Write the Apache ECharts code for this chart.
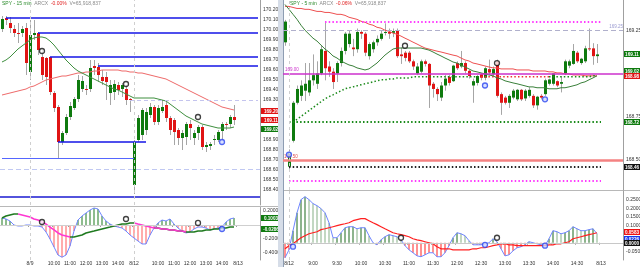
<!DOCTYPE html>
<html><head><meta charset="utf-8">
<script src="https://cdn.jsdelivr.net/npm/echarts/dist/echarts.min.js"></script>
<style>html,body{margin:0;padding:0;background:#fff}#c{width:640px;height:267px}</style>
</head><body><div id="c"></div>
<script>
// ================= DATA =================
// Left panel: SPY 15 min (8/8 tail, 8/9, 8/12)
const leftOpen = [170.01,170.12,170.07,170.01,169.97,169.97,170.02,169.58,169.95,169.97,
169.73,169.72,169.73,169.37,169.23,168.88,168.97,169.13,169.22,169.31,
169.41,169.41,169.41,169.64,169.63,169.53,169.53,169.37,169.38,169.45,
169.41,169.41,169.31,168.45,168.90,168.95,169.00,169.15,169.23,169.08,
169.19,169.25,169.12,169.10,169.00,168.92,168.93,169.06,168.92,168.97,
169.03,168.83,168.84,168.90,168.90,168.99,169.06,169.06,169.13];
const leftClose = [170.11,170.10,170.02,169.97,169.965,170.01,169.67,169.95,169.97,169.80,
169.55,169.53,169.38,169.22,168.88,168.97,169.13,169.24,169.31,169.50,
169.49,169.40,169.62,169.62,169.55,169.49,169.48,169.45,169.46,169.40,
169.45,169.30,169.30,168.88,169.12,169.20,169.18,169.23,169.08,169.22,
169.23,169.12,169.00,168.98,168.92,168.97,169.06,169.02,168.97,169.03,
168.83,168.85,168.86,168.91,168.98,169.06,169.05,169.13,169.10];
const leftHigh = [170.14,170.14,170.13,170.05,170.07,170.04,170.07,170.10,170.10,169.98,
169.80,169.73,169.73,169.39,169.25,168.99,169.16,169.28,169.33,169.55,
169.54,169.45,169.70,169.70,169.67,169.60,169.58,169.50,169.50,169.48,
169.47,169.45,169.32,168.90,169.15,169.22,169.22,169.27,169.25,169.25,
169.30,169.28,169.14,169.12,169.02,169.00,169.08,169.10,169.00,169.05,
169.05,168.88,168.88,168.95,169.00,169.08,169.08,169.15,169.25];
const leftLow = [169.98,170.05,169.97,169.93,169.87,169.93,169.55,169.50,169.90,169.75,
169.50,169.45,169.35,169.18,168.72,168.85,168.95,169.10,169.20,169.28,
169.38,169.35,169.38,169.55,169.48,169.45,169.30,169.25,169.30,169.35,
169.33,169.25,169.18,168.36,168.88,168.90,168.95,169.12,169.05,169.05,
169.17,169.08,168.95,168.85,168.85,168.80,168.85,168.90,168.85,168.90,
168.80,168.78,168.80,168.85,168.88,168.90,169.00,169.02,169.05];
const leftFastMA = [169.68,169.70,169.73,169.77,169.81,169.84,169.87,169.90,169.92,169.93,
169.93,169.92,169.89,169.85,169.80,169.75,169.70,169.66,169.62,169.59,
169.57,169.55,169.53,169.51,169.49,169.47,169.45,169.43,169.41,169.40,
169.38,169.36,169.34,169.32,169.32,169.32,169.32,169.32,169.32,169.31,
169.30,169.29,169.26,169.23,169.20,169.17,169.14,169.12,169.10,169.08,
169.06,169.05,169.04,169.03,169.02,169.02,169.02,169.02,169.03];
const leftSlowMA = [169.35,169.36,169.37,169.38,169.39,169.40,169.41,169.43,169.44,169.46,
169.48,169.50,169.51,169.52,169.53,169.54,169.54,169.55,169.56,169.57,
169.57,169.58,169.58,169.59,169.59,169.60,169.60,169.60,169.60,169.60,
169.59,169.59,169.58,169.58,169.57,169.57,169.56,169.55,169.54,169.53,
169.52,169.51,169.49,169.47,169.45,169.43,169.41,169.39,169.37,169.35,
169.33,169.31,169.29,169.27,169.25,169.23,169.22,169.21,169.20];
const leftMacd = [0.100,0.086,0.057,0,-0.014,-0.014,0,0,-0.014,-0.014,
-0.029,-0.100,-0.200,-0.314,-0.429,-0.46,-0.429,-0.300,-0.086,0.071,
0.129,0.171,0.214,0.243,0.229,0.129,0.057,0.014,-0.014,-0.029,
-0.043,-0.086,-0.143,-0.186,-0.229,-0.271,-0.271,-0.143,-0.043,0.029,
0.071,0.057,0.086,0.014,-0.043,-0.086,-0.114,-0.100,-0.057,-0.029,
-0.029,-0.043,-0.071,-0.057,-0.043,-0.029,0.043,0.086,0.100];
const leftSignal = [0.100,0.129,0.143,0.157,0.157,0.143,0.129,0.114,0.086,0.071,
0.043,0.014,-0.029,-0.071,-0.114,-0.143,-0.157,-0.171,-0.171,-0.157,
-0.143,-0.114,-0.100,-0.086,-0.071,-0.057,-0.043,-0.029,-0.014,0,
0.014,0.014,0.029,0.029,0.014,0,-0.014,-0.029,-0.043,-0.043,
-0.057,-0.057,-0.071,-0.071,-0.086,-0.086,-0.100,-0.100,-0.100,-0.086,
-0.086,-0.071,-0.071,-0.057,-0.057,-0.043,-0.043,-0.029,-0.029];
const leftTickCats = ['8/9 08:30','8/9 10:00','8/9 11:00','8/9 12:00','8/9 13:00','8/9 14:00',
  '8/12 08:30','8/12 10:00','8/12 11:00','8/12 12:00','8/12 13:00','8/12 14:00','8/13 08:30'];
const leftTickText = ['8/9','10:00','11:00','12:00','13:00','14:00','8/12','10:00','11:00','12:00','13:00','14:00','8/13'];
const leftPriceTicks = [170.2,170.1,170.0,169.9,169.8,169.7,169.6,169.5,169.4,169.3,168.9,168.8,168.7,168.6,168.5,168.4];
const leftMacdTicks = [0.2,-0.2,-0.4];
const leftLevels = [170.12,169.97,169.73,169.64];
const leftLevelStart = [1,9,12,24];
const leftShortLevel = [14,36,168.88];
const leftLowLevel = [0,33,168.72];
const leftDash = [168.61];
const leftDash2 = [32,64,169.30];
const leftBottomLevel = 168.33;
const leftMainMarks = [[10,169.79,'k'],[31,169.46,'k'],[49,169.13,'k'],[55,168.88,'b']];
const leftMacdMarks = [[10,0.043,'k'],[31,0.086,'k'],[49,0.029,'k'],[55,-0.057,'b']];
const leftBoxVals = [169.195,169.10,169.015];
const leftBoxText = ['169.20','169.11','169.02'];
const leftMacdBoxVals = [0.100,-0.05];
const leftMacdBoxText = ['0.1003','-0.0286'];

// Right panel: SPY 5 min (last bar 8/9 + 8/12)
const rightOpen = [169.18,168.46,168.61,168.83,168.87,168.90,168.89,168.96,168.94,169.00,
169.13,169.04,169.01,169.00,169.06,169.13,169.17,169.15,169.14,169.24,
169.23,169.10,169.14,169.18,169.20,169.235,169.24,169.235,169.25,169.11,
169.12,169.12,169.07,169.00,169.01,169.07,169.055,168.94,168.91,168.86,
168.93,168.98,168.955,169.06,169.04,169.06,169.015,168.93,168.945,168.995,
168.975,169.025,168.995,169.07,168.88,168.86,168.83,168.86,168.85,168.905,
168.855,168.87,168.87,168.815,168.87,168.88,168.94,168.94,168.955,168.94,
169.00,169.045,169.055,169.12,169.06,169.07,169.145,169.145,169.10];
const rightClose = [169.30,168.54,168.83,168.91,168.93,168.94,168.96,168.99,169.00,169.14,
169.03,169.01,168.95,169.06,169.13,169.23,169.23,169.14,169.24,169.23,
169.12,169.17,169.18,169.20,169.23,169.24,169.23,169.245,169.10,169.10,
169.09,169.07,169.04,169.04,169.07,169.055,168.93,168.91,168.88,168.93,
168.97,168.945,169.045,169.03,169.06,169.015,168.985,168.955,168.985,168.975,
169.03,169.005,169.025,168.87,168.83,168.83,168.87,168.90,168.905,168.85,
168.90,168.905,168.815,168.865,168.86,168.96,168.965,169.00,168.93,168.95,
169.07,169.07,169.13,169.07,169.085,169.145,169.14,169.10,169.11];
const rightHigh = [169.31,168.56,168.84,168.93,168.96,169.06,169.06,169.11,169.07,169.16,
169.30,169.07,169.03,169.07,169.15,169.24,169.25,169.20,169.26,169.25,
169.24,169.18,169.19,169.22,169.25,169.29,169.26,169.26,169.26,169.15,
169.13,169.13,169.08,169.06,169.08,169.08,169.06,168.95,168.92,168.95,
168.99,168.99,169.05,169.07,169.13,169.07,169.02,168.97,168.99,169.00,
169.04,169.08,169.04,169.08,168.89,168.87,168.88,168.91,168.91,168.91,
168.91,168.92,168.88,168.87,168.88,168.97,168.97,169.00,168.96,168.985,
169.08,169.08,169.17,169.13,169.09,169.16,169.26,169.175,169.17];
const rightLow = [169.16,168.43,168.60,168.82,168.84,168.84,168.87,168.93,168.91,168.99,
168.96,168.98,168.91,168.95,169.04,169.11,169.15,169.10,169.12,169.20,
169.10,169.08,169.12,169.16,169.19,169.22,169.20,169.21,169.09,169.055,
169.07,169.06,169.02,168.99,169.00,169.04,168.80,168.86,168.84,168.84,
168.90,168.93,168.95,169.02,169.03,169.00,168.97,168.83,168.93,168.96,
168.96,168.99,168.98,168.86,168.76,168.82,168.80,168.85,168.84,168.84,
168.84,168.86,168.80,168.79,168.85,168.87,168.93,168.93,168.92,168.89,
168.99,169.03,169.05,169.06,169.05,169.06,169.13,169.05,169.06];
const rightFastMA = [169.399,169.371,169.342,169.313,169.279,169.250,169.227,169.204,169.187,169.164,
169.141,169.124,169.101,169.089,169.072,169.060,169.049,169.043,169.032,169.026,
169.020,169.026,169.043,169.060,169.083,169.106,169.124,169.141,169.147,169.147,
169.147,169.147,169.147,169.147,169.147,169.141,169.135,169.124,169.112,169.101,
169.089,169.078,169.066,169.060,169.049,169.037,169.026,169.014,169.009,169.003,
168.997,168.991,168.986,168.974,168.968,168.957,168.951,168.945,168.940,168.934,
168.928,168.922,168.922,168.917,168.917,168.917,168.911,168.911,168.911,168.917,
168.917,168.922,168.928,168.934,168.945,168.951,168.963,168.974,168.986];
const rightSlowMA = [169.388,169.388,169.382,169.376,169.376,169.371,169.371,169.365,169.359,169.359,
169.353,169.353,169.348,169.342,169.342,169.336,169.325,169.319,169.313,169.302,
169.296,169.285,169.279,169.267,169.262,169.250,169.244,169.233,169.227,169.216,
169.204,169.193,169.181,169.170,169.158,169.147,169.141,169.135,169.129,169.124,
169.118,169.112,169.106,169.101,169.089,169.078,169.072,169.060,169.055,169.049,
169.043,169.037,169.032,169.032,169.026,169.026,169.026,169.026,169.020,169.020,
169.020,169.020,169.014,169.014,169.014,169.014,169.009,169.009,169.003,169.003,
168.997,168.997,168.991,168.991,168.991,168.986,168.986,168.986,168.986];
const rightTrail = [null,null,168.716,168.734,168.751,168.768,168.785,168.802,168.819,168.836,
168.853,168.865,168.876,168.888,168.899,168.911,168.917,168.922,168.928,168.934,
168.940,168.945,168.951,168.957,168.963,168.963,168.968,168.968,168.974,168.974,
168.974,168.974,168.980,168.980,168.980,168.980,168.980,168.980,168.980,168.980,
168.980,168.980,168.980,168.980,168.980,168.980,168.980,168.980,168.980,168.980,
168.980,168.980,168.980,168.980,168.980,168.980,168.980,168.980,168.980,168.980,
168.980,168.980,168.980,168.980,168.980,168.980,168.980,168.980,168.980,168.980,
168.980,168.980,168.980,168.980,168.980,168.980,168.980,168.986,168.986];
const rightTrailRedRange = [49,66];
const rightMacd = [-0.087,-0.041,0.070,0.174,0.250,0.267,0.250,0.227,0.215,0.198,
0.174,0.116,0.029,0.029,0.058,0.087,0.093,0.093,0.081,0.087,
0.087,0.041,0.000,-0.012,0.017,0.035,0.047,0.041,0.035,0.017,
-0.017,-0.041,-0.058,-0.076,-0.081,-0.070,-0.058,-0.058,-0.081,-0.081,
-0.058,-0.017,0.029,0.058,0.052,0.041,0.012,-0.012,-0.012,-0.012,
-0.006,0.000,0.023,0.006,-0.035,-0.076,-0.070,-0.047,-0.029,-0.023,
-0.012,0.006,0.000,-0.006,-0.012,-0.017,0.023,0.070,0.064,0.052,
0.058,0.070,0.093,0.081,0.070,0.070,0.076,0.081,0.052];
const rightSignal = [-0.035,-0.017,-0.006,0.012,0.029,0.041,0.052,0.058,0.064,0.076,
0.081,0.087,0.093,0.099,0.105,0.110,0.116,0.128,0.134,0.140,
0.140,0.128,0.116,0.105,0.093,0.081,0.070,0.058,0.052,0.047,
0.041,0.035,0.023,0.017,0.012,0.006,0.000,-0.006,-0.023,-0.035,
-0.035,-0.035,-0.041,-0.041,-0.041,-0.041,-0.041,-0.035,-0.035,-0.029,
-0.029,-0.023,-0.017,-0.012,-0.006,-0.006,-0.012,-0.012,-0.017,-0.017,
-0.017,-0.017,-0.017,-0.017,-0.017,-0.017,-0.012,-0.012,-0.006,-0.006,
0.000,0.006,0.023,0.029,0.035,0.041,0.047,0.052,0.058];
const rightTickCats = ['8/12 08:30','8/12 09:00','8/12 09:30','8/12 10:00','8/12 10:30','8/12 11:00','8/12 11:30',
  '8/12 12:00','8/12 12:30','8/12 13:00','8/12 13:30','8/12 14:00','8/12 14:30','8/13 08:30'];
const rightTickText = ['8/12','9:00','9:30','10:00','10:30','11:00','11:30','12:00','12:30','13:00','13:30','14:00','14:30','8/13'];
const rightPriceTicks = [169.25,168.75,168.50];
const rightMacdTicks = [0.25,0.20,0.15,0.10,-0.05];
const rightTopDots = [10,79,169.30];
const rightDash = 169.25;
const rightPivot = 169.00;
const rightGreenDots = [1,79,168.72];
const rightRedLevel = 168.50;
const rightBlackDots = [1,79,168.457];
const rightMagDots = [1,79,168.378];
const rightMainMarks = [[1,168.53,'b'],[30,169.16,'k'],[50,168.93,'b'],[53,169.06,'k'],[65,168.85,'b']];
const rightMacdMarks = [[2,-0.023,'b'],[29,0.029,'k'],[50,-0.012,'b'],[53,0.029,'k'],[65,-0.017,'b']];
const rightBoxVals = [169.112,169.012,168.985,168.72,168.457];
const rightBoxText = ['169.11','169.02','168.98','168.72','168.46'];
const rightMacdBoxVals = [0.062,0.023,0.0];
const rightMacdBoxText = ['0.0583','0.0226','0.0000'];

// ================= CHART =================
function makeCats(parts){
  const out=[];
  for(const [d,start,n,step] of parts){
    for(let k=0;k<n;k++){const m=start+k*step;const h=Math.floor(m/60),mm=m%60;
      out.push(d+' '+String(h).padStart(2,'0')+':'+String(mm).padStart(2,'0'));}
  }
  return out;
}
const leftCats = makeCats([['8/8',795,7,15],['8/9',510,26,15],['8/12',510,26,15],['8/13',510,6,15]]);
const rightCats = makeCats([['8/9',895,1,5],['8/12',510,78,5],['8/13',510,6,5]]);

const FONT='Liberation Sans, Arial, sans-serif';
const GREEN='#0e7a0e', RED='#e01414', WICK='#a6a6a6';
const chart = echarts.init(document.getElementById('c'), null, {renderer:'canvas', width:640, height:267});

function candles(xi, yi, O, C, H, L){
  return {type:'custom', xAxisIndex:xi, yAxisIndex:yi, animation:false, z:3,
    data:O.map((o,i)=>[i,o,C[i],L[i],H[i]]), encode:{x:0,y:[1,2,3,4]},
    renderItem(params, api){
      const i=api.value(0),o=api.value(1),c=api.value(2),l=api.value(3),h=api.value(4);
      const pO=api.coord([i,o]),pC=api.coord([i,c]),pL=api.coord([i,l]),pH=api.coord([i,h]);
      const x=Math.round(pO[0]);
      const top=Math.min(pO[1],pC[1]),bot=Math.max(pO[1],pC[1]);
      return {type:'group',children:[
        {type:'line',shape:{x1:x+0.5,y1:pH[1],x2:x+0.5,y2:pL[1]},style:{stroke:WICK,lineWidth:1}},
        {type:'rect',shape:{x:x-1,y:top,width:3,height:Math.max(1,bot-top)},style:{fill:c>=o?GREEN:RED}}
      ]};
    }};
}
function line(xi, yi, data, color, width, extra){
  return Object.assign({type:'line', xAxisIndex:xi, yAxisIndex:yi, data, symbol:'none', showSymbol:false,
    animation:false, silent:true, connectNulls:false, lineStyle:{color, width}, z:4}, extra||{});
}
function splitDir(vals){
  const up=vals.map(()=>null), dn=vals.map(()=>null);
  for(let i=1;i<vals.length;i++){const t=vals[i]>=vals[i-1]?up:dn; t[i-1]=vals[i-1]; t[i]=vals[i];}
  return [up,dn];
}
function marks(xi, yi, pts){
  return {type:'scatter', xAxisIndex:xi, yAxisIndex:yi, animation:false, silent:true, z:6, symbol:'circle', symbolSize:5,
    data:pts.map(p=>({value:[p[0],p[1]], itemStyle:p[2]==='k'?{color:'#fff',borderColor:'#111',borderWidth:1.3}:{color:'#cfd8ff',borderColor:'#2a45f0',borderWidth:1.3}}))};
}
const ML=(data)=>({symbol:['none','none'], silent:true, animation:false, label:{show:false}, data});
const hSeg=(i0,i1,v,color,width,type)=>[{coord:[i0,v],lineStyle:{color,width,type}},{coord:[i1,v]}];
const hFull=(v,color,width,type,label)=>({yAxis:v,lineStyle:{color,width,type},label:label||{show:false}});
const vLine=(cat)=>({xAxis:cat,lineStyle:{color:'#cfcfcf',width:1,type:[3,3]}});
const DOT=[1.5,2.2];

function catAxis(g, cats, tickCats, tickText, showLabels, margin){
  return {type:'category', gridIndex:g, data:cats, boundaryGap:true,
    axisLine:{show:showLabels, lineStyle:{color:'#9a9a9a', width:1}},
    axisTick:{show:showLabels, length:2, interval:(idx,v)=>tickCats.includes(v), lineStyle:{color:'#9a9a9a'}},
    axisLabel:{show:showLabels, interval:0, margin, fontSize:5, color:'#333', fontFamily:FONT,
      formatter:(v)=>{const j=tickCats.indexOf(v);return j<0?'':tickText[j];}},
    splitLine:{show:false}};
}
function valAxis(g, min, max, interval, ticks, dec){
  return {type:'value', gridIndex:g, position:'right', min, max, interval, scale:false,
    axisLine:{show:true, lineStyle:{color:'#a0a0a0'}}, axisTick:{show:false}, splitLine:{show:false},
    axisLabel:{margin:3, fontSize:5, color:'#333', fontFamily:FONT, showMinLabel:true, showMaxLabel:true,
      formatter:(v)=>ticks.some(t=>Math.abs(t-v)<1e-6)?v.toFixed(dec):''}};
}

const [lsUp, lsDn] = splitDir(leftSignal);
const trailGreen = rightTrail.map((v,i)=>(i>rightTrailRedRange[0]&&i<rightTrailRedRange[1])?null:v);
const trailRed = rightTrail.map((v,i)=>(i>=rightTrailRedRange[0]&&i<=rightTrailRedRange[1])?v:null);

const option = {
  backgroundColor:'#ffffff', animation:false,
  grid:[
    {left:0, top:0, width:260, height:205, containLabel:false, outerBoundsMode:'none'},
    {left:0, top:207.5, width:260, height:52.5, containLabel:false, outerBoundsMode:'none'},
    {left:283, top:0, width:340, height:190, containLabel:false, outerBoundsMode:'none'},
    {left:283, top:191, width:340, height:69, containLabel:false, outerBoundsMode:'none'}
  ],
  xAxis:[
    catAxis(0,leftCats,leftTickCats,leftTickText,false,2),
    catAxis(1,leftCats,leftTickCats,leftTickText,true,1.5),
    catAxis(2,rightCats,rightTickCats,rightTickText,false,2),
    catAxis(3,rightCats,rightTickCats,rightTickText,true,1.5)
  ],
  yAxis:[
    valAxis(0,168.25,170.30,0.05,leftPriceTicks,2),
    valAxis(1,-0.5,0.25,0.05,leftMacdTicks,4),
    valAxis(2,168.325,169.425,0.025,rightPriceTicks,2),
    valAxis(3,-0.1,0.3,0.05,rightMacdTicks,4)
  ],
  series:[
    // ---- left main ----
    line(0,0,leftSlowMA,'#ee6a6a',1,{markLine:ML([
      ...leftLevels.map((v,k)=>hSeg(leftLevelStart[k],64,v,'#1414e6',1.5,'solid')),
      hSeg(leftShortLevel[0],leftShortLevel[1],leftShortLevel[2],'#1414e6',1.5,'solid'),
      hSeg(leftLowLevel[0],leftLowLevel[1],leftLowLevel[2],'#5566ff',1,'solid'),
      hSeg(leftDash2[0],leftDash2[1],leftDash2[2],'#c4c4ee',1,[4,3]),
      hFull(leftDash[0],'#c0c8f2',1,[5,3]),
      hFull(leftBottomLevel,'#1a1ad0',1.5,'solid'),
      vLine('8/9 08:30'), vLine('8/12 08:30')
    ])}),
    candles(0,0,leftOpen,leftClose,leftHigh,leftLow),
    line(0,0,leftFastMA,'#3f8f3f',1),
    marks(0,0,leftMainMarks),
    // ---- left MACD ----
    {type:'bar', xAxisIndex:1, yAxisIndex:1, barWidth:1, animation:false, silent:true, z:2,
      data:leftMacd.map(v=>({value:v,itemStyle:{color:v>=0?'#1f7a1f':'#ff5a5a'}})),
      markLine:ML([hFull(0,'#cfcfcf',1,'solid'), vLine('8/9 08:30'), vLine('8/12 08:30')])},
    line(1,1,leftMacd,'#6f86ff',1),
    line(1,1,lsUp,'#1f7a1f',1.6),
    line(1,1,lsDn,'#ff36d2',1.6),
    marks(1,1,leftMacdMarks),
    // ---- right main ----
    line(2,2,rightSlowMA,'#ee5050',1,{markLine:ML([
      hSeg(rightTopDots[0],rightTopDots[1],rightTopDots[2],'#ff3cff',2,DOT),
      hFull(rightDash,'#b0b0cc',1,[5,3],{show:true,position:'insideEndTop',formatter:'169.25',fontSize:4.5,color:'#9a9ad0',fontFamily:FONT,distance:[0,1]}),
      hFull(rightPivot,'#cc30cc',1.6,'solid',{show:true,position:'insideStartTop',formatter:'169.00',fontSize:4.5,color:'#cc30cc',fontFamily:FONT,distance:[2,1]}),
      hSeg(rightGreenDots[0],rightGreenDots[1],rightGreenDots[2],'#1a8a1a',2,DOT),
      hFull(rightRedLevel,'#f48282',2.5,'solid',{show:true,position:'insideStartTop',formatter:'168.50',fontSize:4.5,color:'#e05050',fontFamily:FONT,distance:[1,1]}),
      hSeg(rightBlackDots[0],rightBlackDots[1],rightBlackDots[2],'#222222',2,DOT),
      hSeg(rightMagDots[0],rightMagDots[1],rightMagDots[2],'#ff3cff',2,DOT),
      vLine('8/12 08:30')
    ])}),
    line(2,2,trailGreen,'#1a8a1a',1.5,{lineStyle:{color:'#1a8a1a',width:1.5,type:DOT}}),
    line(2,2,trailRed,'#ee3030',1.5,{lineStyle:{color:'#ee3030',width:1.5,type:DOT}}),
    line(2,2,rightFastMA,'#3a803a',1),
    candles(2,2,rightOpen,rightClose,rightHigh,rightLow),
    marks(2,2,rightMainMarks),
    // ---- right MACD ----
    {type:'bar', xAxisIndex:3, yAxisIndex:3, barWidth:1, animation:false, silent:true, z:2,
      data:rightMacd.map((v,i)=>({value:v,itemStyle:{color:v>=0?((i>0&&v<rightMacd[i-1])?'#86b086':'#1d6b1d'):'#ff2222'}})),
      markLine:ML([hFull(0,'#c8c8c8',1,'solid'), vLine('8/12 08:30')])},
    line(3,3,rightMacd,'#6f86ff',1),
    line(3,3,rightSignal,'#ff2020',1.2),
    marks(3,3,rightMacdMarks)
  ]
};
chart.setOption(option);

function boxes(yi, x, w, vals, texts, colors){
  return vals.map((v,i)=>{
    const y=Math.round(chart.convertToPixel({yAxisIndex:yi}, v));
    return {type:'group', children:[
      {type:'rect', shape:{x, y:y-3, width:w, height:6}, style:{fill:colors[i]}},
      {type:'text', x:x+w/2, y:y+0.3, style:{text:texts[i], fill:'#fff', fontSize:4.6, fontFamily:FONT, fontWeight:'bold', align:'center', verticalAlign:'middle'}}
    ]};
  });
}
const titleRich={g:{fill:'#2a8a2a',fontSize:5,fontFamily:FONT},k:{fill:'#8a8a8a',fontSize:5,fontFamily:FONT},r:{fill:'#e02020',fontSize:5,fontFamily:FONT}};
chart.setOption({graphic:{elements:[
  {type:'rect', shape:{x:278,y:0,width:5,height:267}, style:{fill:'#d6dde8'}, z:1},
  {type:'line', shape:{x1:283.5,y1:0,x2:283.5,y2:267}, style:{stroke:'#8e9db2',lineWidth:1}, z:1},
  {type:'line', shape:{x1:0,y1:206.5,x2:278,y2:206.5}, style:{stroke:'#b8b8b8',lineWidth:1}},
  {type:'line', shape:{x1:284,y1:190.5,x2:640,y2:190.5}, style:{stroke:'#b8b8b8',lineWidth:1}},
  {type:'text', x:2, y:1, style:{text:'{g|SPY - 15 min}  {k|ARCX}  {r|-0.00%}  {k|V=65,918,837}', rich:titleRich, fontSize:5, fontFamily:FONT}},
  {type:'text', x:290, y:1, style:{text:'{g|SPY - 5 min}  {k|ARCX}  {r|-0.06%}  {k|V=65,918,837}', rich:titleRich, fontSize:5, fontFamily:FONT}},
  ...boxes(0,261,20,leftBoxVals,leftBoxText,['#e01414','#e01414','#0e7a0e']),
  ...boxes(1,261,20,leftMacdBoxVals,leftMacdBoxText,['#0e7a0e','#0e7a0e']),
  ...boxes(2,624,16,rightBoxVals,rightBoxText,['#0e7a0e','#0e7a0e','#e01414','#0e7a0e','#111111']),
  ...boxes(3,624,16,rightMacdBoxVals,rightMacdBoxText,['#ee1111','#1a3ae8','#111111'])
]}});
</script></body></html>
